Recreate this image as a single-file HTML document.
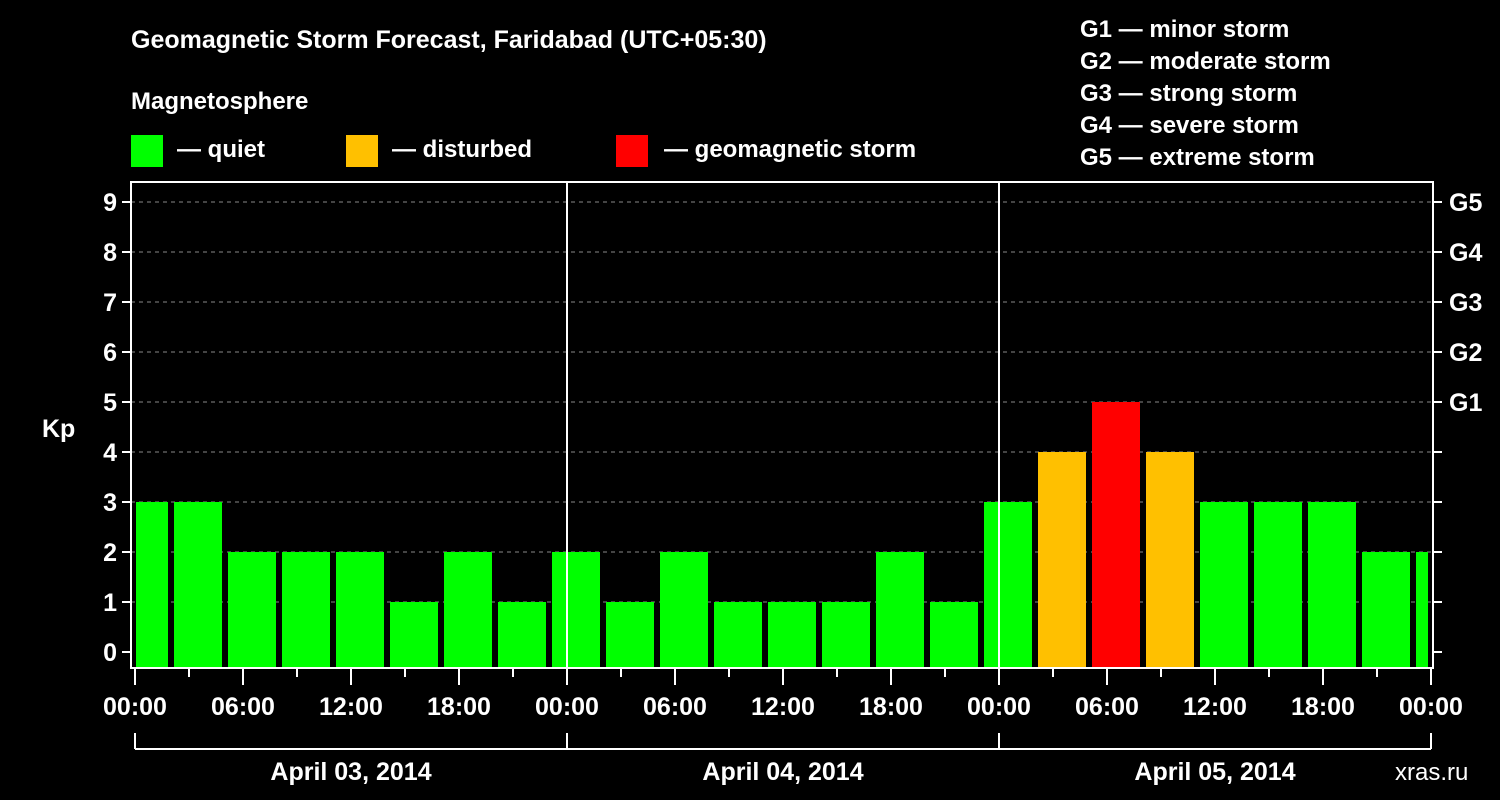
<!DOCTYPE html>
<html><head><meta charset="utf-8"><style>
html,body{margin:0;padding:0;background:#000;}
svg{display:block;font-family:"Liberation Sans",Arial,sans-serif;font-weight:bold;}
</style></head><body>
<svg id="chart" width="1500" height="800" viewBox="0 0 1500 800" xmlns="http://www.w3.org/2000/svg">
<rect width="1500" height="800" fill="#000"/>
<text x="131" y="48" fill="#fff" font-size="25">Geomagnetic Storm Forecast, Faridabad (UTC+05:30)</text>
<text x="131" y="109" fill="#fff" font-size="24">Magnetosphere</text>
<g><rect x="131" y="135" width="32" height="32" fill="#00ff00"/><text x="177" y="157" fill="#fff" font-size="24">— quiet</text></g>
<g><rect x="346" y="135" width="32" height="32" fill="#ffc000"/><text x="392" y="157" fill="#fff" font-size="24">— disturbed</text></g>
<g><rect x="616" y="135" width="32" height="32" fill="#ff0000"/><text x="664" y="157" fill="#fff" font-size="24">— geomagnetic storm</text></g>
<g fill="#fff" font-size="24">
<text x="1080" y="37">G1 — minor storm</text>
<text x="1080" y="69">G2 — moderate storm</text>
<text x="1080" y="101">G3 — strong storm</text>
<text x="1080" y="133">G4 — severe storm</text>
<text x="1080" y="165">G5 — extreme storm</text>
</g>
<text x="42" y="437" fill="#fff" font-size="25">Kp</text>
<text x="1395" y="780" fill="#fff" font-size="24" font-weight="normal">xras.ru</text>
<g id="grid"></g><g id="bars"></g><g id="axes"></g>
</svg>
<script>
const kpValues = [3,3,2,2,2,1,2,1,2,1,2,1,1,1,2,1,3,4,5,4,3,3,3,2,2];
const kpTicks = [0,1,2,3,4,5,6,7,8,9];
const gLabels = ["","","","","","G1","G2","G3","G4","G5"];
const timeLabels = ["00:00","06:00","12:00","18:00","00:00","06:00","12:00","18:00","00:00","06:00","12:00","18:00","00:00"];
const dayLabels = ["April 03, 2014","April 04, 2014","April 05, 2014"];
const barStartOffsetHours = -0.8333, barHours = 3, totalHours = 72;
const NS="http://www.w3.org/2000/svg";
const X0=135, PXH=18, L=131, R=1433, T=182, B=668;
const x = h => X0 + h*PXH;
const y = k => 652 - 50*k;
function mk(tag, attrs, parent){const e=document.createElementNS(NS,tag);for(const k in attrs)e.setAttribute(k,attrs[k]);parent.appendChild(e);return e;}
const grid=document.getElementById('grid'), bars=document.getElementById('bars'), axes=document.getElementById('axes');
kpTicks.forEach((k,i)=>{
  if(k>0){const g=mk('line',{x1:L,x2:R,y1:y(k),y2:y(k),stroke:'#888','stroke-dasharray':'4,4','stroke-width':1},grid);
  
  }
  const t=mk('line',{x1:L-9,x2:L,y1:y(k),y2:y(k),stroke:'#fff','stroke-width':2},axes);
  
  
  const t2=mk('line',{x1:R,x2:R+9,y1:y(k),y2:y(k),stroke:'#fff','stroke-width':2},axes);
  
  
  const lb=mk('text',{x:L-14,y:y(k)+9,fill:'#fff','font-size':25,'text-anchor':'end'},axes);
  lb.textContent=k;
  
  
  if(gLabels[i]){const gl=mk('text',{x:R+16,y:y(k)+9,fill:'#fff','font-size':25},axes);
  gl.textContent=gLabels[i];
  
  }
});
kpValues.forEach((v,i)=>{
  const h0=barStartOffsetHours+barHours*i;
  let x1=Math.max(x(h0), X0+1), x2=Math.min(x(h0)+48, 1428);
  const c = v>=5?'#ff0000':(v>=4?'#ffc000':'#00ff00');
  const r=mk('rect',{x:x1,y:y(v),width:x2-x1,height:B-y(v),fill:c},bars);
  
  
});
[24,48].forEach(h=>{const d=mk('line',{x1:x(h),x2:x(h),y1:T,y2:B,stroke:'#fff','stroke-width':2},axes);
  
  });
const fr=mk('rect',{x:L,y:T,width:R-L,height:B-T,fill:'none',stroke:'#fff','stroke-width':2},axes);


for(let h=0;h<=totalHours;h+=3){
  const major=h%6===0;
  const t=mk('line',{x1:x(h),x2:x(h),y1:B,y2:major?685:677,stroke:'#fff','stroke-width':2},axes);
  
  
}
timeLabels.forEach((s,i)=>{const t=mk('text',{x:x(i*6),y:715,fill:'#fff','font-size':25,'text-anchor':'middle'},axes);
  t.textContent=s;
  
  });
const br=mk('line',{x1:x(0),x2:x(72),y1:749,y2:749,stroke:'#fff','stroke-width':2},axes);


[0,24,48,72].forEach(h=>{const t=mk('line',{x1:x(h),x2:x(h),y1:733,y2:749,stroke:'#fff','stroke-width':2},axes);
  
  });
dayLabels.forEach((s,i)=>{const t=mk('text',{x:x(i*24+12),y:780,fill:'#fff','font-size':25,'text-anchor':'middle'},axes);
  t.textContent=s;
  
  });
</script>
</body></html>
